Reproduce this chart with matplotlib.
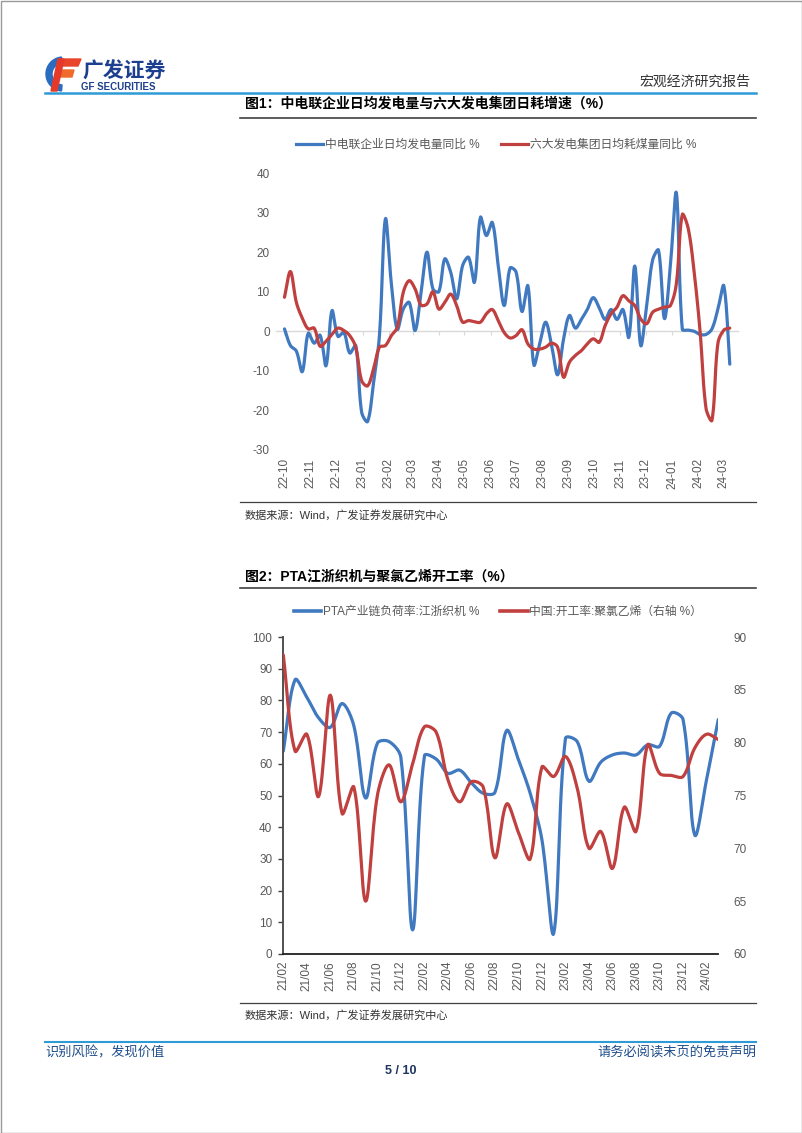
import numpy as np
import pandas as pd
import matplotlib
matplotlib.use('Agg')
import matplotlib.pyplot as plt
import matplotlib.dates as mdates
from matplotlib.lines import Line2D
from matplotlib.patches import Rectangle, Wedge, Polygon

plt.rcParams['font.family'] = ['Liberation Sans', 'Noto Sans CJK SC']
plt.rcParams['axes.unicode_minus'] = False

# ---------------- data: chart 1 (weekly, from 2022-10-01) ----------------
chart1_start = '2022-10-01'
power_yoy = [0.6, -3.6, -5, -10.2, -0.5, -3, -1, -8.7, 5.2, -1.3,
             -0.3, -5.5, -3.6, -20.5, -22.8, -13, -1, 28.4, 12, 0.5,
             5.6, 7.3, 0.2, 9.8, 20, 10.7, 10, 18.3, 14.9, 8.2,
             16.6, 18.7, 12.4, 28.8, 24.2, 27.5, 16.6, 6.5, 16, 15,
             5, 11.5, -8.5, -3, 2.3, -3.6, -11, -2, 4, 0.8,
             3, 5.5, 8.5, 6, 3, 5.5, 3, 5.5, -1.5, 16.5,
             -3.6, 6.5, 18, 20.5, 3.2, 16.6, 35, 0.5, 0.3, 0,
             -0.8, -0.8, 0.6, 5.6, 11.5, -8.3]
coal_yoy = [8.6, 15.1, 7.3, 3.3, 0.6, 0.8, -3.8, -2.5, -0.8, 0.8,
            0.2, -1.1, -4, -12.5, -13.8, -9.5, -4, -3.6, -1.1, 1,
            9.8, 12.8, 10.7, 6.6, 6.9, 10, 5.6, 7.3, 9.4, 6.5,
            2.3, 2.7, 2.4, 2.3, 4.4, 5.5, 2.7, -0.3, -1.7, -1.1,
            0.4, -3.2, -4.5, -4.5, -4, -3, -4, -11.6, -7.8, -6.1,
            -4.9, -3.2, -1.9, -2.8, 1.4, 4.4, 6.1, 9, 7.7, 6.5,
            3.1, 1.9, 4.8, 5.6, 6.1, 6.5, 12, 29.5, 26, 15,
            0, -19.5, -22.5, -3, 0.3, 0.8]
chart1_month_ticks = pd.date_range('2022-10-01', '2024-03-01', freq='MS')
chart1_yticks = [-30, -20, -10, 0, 10, 20, 30, 40]
chart1_labels = ['中电联企业日均发电量同比 %', '六大发电集团日均耗煤量同比 %']

# ---------------- data: chart 2 (monthly, 2021-02 .. 2024-03) ----------------
chart2_months = pd.date_range('2021-02-01', '2024-03-01', freq='MS')
pta_load = [64, 86.5, 81, 74.5, 71.5, 79, 72, 49.2, 66.5, 67,
            62, 7.6, 62.5, 61.5, 57, 58, 54, 50.7, 51, 70.5,
            61.3, 50.7, 36, 6.5, 68, 67, 54.5, 60.5, 62.8, 63.4,
            62.8, 66, 65.5, 76, 74, 37.5, 55, 74]
pvc_rate = [88.3, 79.2, 80.8, 74.9, 84.5, 73.3, 75.8, 65, 75, 77.9,
            74.4, 78, 81.5, 81, 76.5, 74.4, 76.3, 75.8, 69.1, 74.2,
            71.5, 69, 77.7, 76.8, 78.7, 75.7, 70, 71.6, 68.1, 73.9,
            71.6, 79.8, 77.1, 76.9, 76.8, 79.5, 80.8, 80.3]
chart2_labels = ['PTA产业链负荷率:江浙织机 %', '中国:开工率:聚氯乙烯（右轴 %）']

BLUE = '#4079c0'
RED = '#c0403f'
GRAY = '#595959'

W, H = 802, 1133
fig = plt.figure(figsize=(W / 100, H / 100), dpi=100)


def axrect(x0, y0, x1, y1):
    return [x0 / W, 1 - y1 / H, (x1 - x0) / W, (y1 - y0) / H]


def smooth(ax, x, y, n=16):
    """Excel-style smoothed line: cubic Bezier through the data points; the
    tangent at each point is split between its two sides in proportion to the
    screen length of each side."""
    P = ax.transData.transform(np.column_stack([np.asarray(x, float), np.asarray(y, float)]))
    N = len(P)
    seg = np.linalg.norm(np.diff(P, axis=0), axis=1)
    h_out = np.zeros_like(P)
    h_in = np.zeros_like(P)
    for i in range(1, N - 1):
        T = P[i + 1] - P[i - 1]
        lp, ln = seg[i - 1], seg[i]
        tot = lp + ln if lp + ln > 0 else 1.0
        h_out[i] = T * (ln / tot) / 3.0
        h_in[i] = T * (lp / tot) / 3.0
    h_out[0] = (P[1] - P[0]) / 3.0
    h_in[-1] = (P[-1] - P[-2]) / 3.0
    t = np.linspace(0, 1, n, endpoint=False)[:, None]
    pts = []
    for i in range(N - 1):
        p0, p3 = P[i], P[i + 1]
        c1 = p0 + h_out[i]
        c2 = p3 - h_in[i + 1]
        b = ((1 - t) ** 3) * p0 + 3 * ((1 - t) ** 2) * t * c1 + 3 * (1 - t) * t ** 2 * c2 + t ** 3 * p3
        pts.append(b)
    pts.append(P[-1:])
    d = ax.transData.inverted().transform(np.vstack(pts))
    return d[:, 0], d[:, 1]


# ---------------- page decorations ----------------
page = fig.add_axes([0, 0, 1, 1], zorder=0)
page.set_xlim(0, W)
page.set_ylim(H, 0)
page.axis('off')
page.add_patch(Rectangle((0.5, 0.5), W - 1, H - 1, fill=False, ec='#9a9a9a', lw=1))

# logo
page.add_patch(Wedge((63, 74), 17, 95, 265, width=6, color='#2a6cc0'))
page.add_patch(Polygon([(60, 59), (81, 59), (78, 66), (58, 66)], color='#e8452c'))
page.add_patch(Polygon([(58, 70), (74, 70), (72, 77), (56, 77)], color='#f06a2a'))
page.add_patch(Polygon([(58, 59), (64, 59), (57, 91), (51, 91)], color='#e53a2a'))
page.text(82, 71, '广发证券', fontsize=15, fontweight='bold', color='#1d3f8f',
          va='center', ha='left', family=['Noto Sans CJK SC'])
page.text(81, 87.5, 'GF SECURITIES', fontsize=7, fontweight='bold', color='#1d3f8f',
          va='center', ha='left')
page.text(750, 82, '宏观经济研究报告', fontsize=10, color='#333333', va='center', ha='right')
page.plot([45, 756], [93, 93], color='#2e9bd6', lw=1.8)

# chart titles & rules
page.text(245, 103, '图1：中电联企业日均发电量与六大发电集团日耗增速（%）', fontsize=10,
          fontweight='bold', color='black', va='center', ha='left')
page.plot([240, 756], [118, 118], color='#404040', lw=1.2)
page.plot([240, 756], [502, 502], color='#404040', lw=0.9)
page.text(245, 515, '数据来源：Wind，广发证券发展研究中心', fontsize=8, color='#333333',
          va='center', ha='left')

page.text(245, 577, '图2：PTA江浙织机与聚氯乙烯开工率（%）', fontsize=10,
          fontweight='bold', color='black', va='center', ha='left')
page.plot([240, 756], [588, 588], color='#404040', lw=1.2)
page.plot([240, 756], [1003, 1003], color='#404040', lw=0.9)
page.text(245, 1015, '数据来源：Wind，广发证券发展研究中心', fontsize=8, color='#333333',
          va='center', ha='left')

# footer
page.plot([45, 756], [1042, 1042], color='#2e9bd6', lw=1.5)
page.text(45, 1053, '识别风险，发现价值', fontsize=9.5, color='#1f4e8c', va='center', ha='left')
page.text(756, 1053, '请务必阅读末页的免责声明', fontsize=9.5, color='#1f4e8c', va='center', ha='right')
page.text(401, 1071, '5 / 10', fontsize=9, fontweight='bold', color='#1f3560', va='center', ha='center')

# ---------------- chart 1 ----------------
ax1 = fig.add_axes(axrect(276, 173, 738, 450), zorder=2)
ax1.patch.set_alpha(0)
d1 = pd.date_range(chart1_start, periods=len(power_yoy), freq='7D')
x1 = mdates.date2num(d1.to_pydatetime())
tick_nums = mdates.date2num(chart1_month_ticks.to_pydatetime())
ax1.set_xlim(tick_nums[0] - 10, tick_nums[-1] + 17.7)
ax1.set_ylim(-30, 40)

sx, sy = smooth(ax1, x1, power_yoy)
ax1.plot(sx, sy, color=BLUE, lw=2.3, solid_capstyle='round', solid_joinstyle='round')
sx, sy = smooth(ax1, x1, coal_yoy)
ax1.plot(sx, sy, color=RED, lw=2.3, solid_capstyle='round', solid_joinstyle='round')

ax1.set_yticks(chart1_yticks)
ax1.tick_params(axis='y', length=0, pad=4.5, labelsize=8.5, labelcolor=GRAY)
for s in ('left', 'right', 'top'):
    ax1.spines[s].set_visible(False)
ax1.spines['bottom'].set_position(('data', 0))
ax1.spines['bottom'].set_color('#d9d9d9')
ax1.spines['bottom'].set_linewidth(1.0)
ax1.spines['bottom'].set_zorder(0)
ax1.set_xticks(tick_nums)
ax1.tick_params(axis='x', direction='out', length=3, color='#d9d9d9', labelbottom=False)
sec = ax1.secondary_xaxis('bottom')
sec.set_xticks(tick_nums, labels=[d.strftime('%y-%m') for d in chart1_month_ticks])
sec.tick_params(length=0, rotation=90, labelsize=8.5, labelcolor=GRAY, pad=6)
sec.spines['bottom'].set_visible(False)

h1 = [Line2D([], [], color=BLUE, lw=2.3), Line2D([], [], color=RED, lw=2.3)]
fig.legend(h1, chart1_labels, loc='center', bbox_to_anchor=(496 / W, 1 - 145 / H),
           ncol=2, frameon=False, fontsize=8.5, handlelength=2.3, handletextpad=0.15,
           columnspacing=1.8, labelcolor=GRAY)

# ---------------- chart 2 ----------------
ax2 = fig.add_axes(axrect(283.3, 637, 718.3, 954), zorder=2)
ax2.patch.set_alpha(0)
m = np.arange(len(chart2_months))
ax2.set_xlim(0, len(chart2_months) - 1)
ax2.set_ylim(0, 100)
sx, sy = smooth(ax2, m, pta_load)
ax2.plot(sx, sy, color=BLUE, lw=2.3, solid_capstyle='round')
ax2.set_yticks(np.arange(0, 101, 10))
ax2.tick_params(axis='y', direction='out', length=3.6, width=1, color='#404040',
                pad=4.3, labelsize=8.5, labelcolor=GRAY)
ax2.set_xticks(m[::2], labels=[d.strftime('%y/%m') for d in chart2_months[::2]])
ax2.tick_params(axis='x', length=0, rotation=90, labelsize=8.5, labelcolor=GRAY, pad=5)
ax2.spines['top'].set_visible(False)
ax2.spines['right'].set_visible(False)
ax2.spines['left'].set_color('#505050')
ax2.spines['left'].set_linewidth(1.4)
ax2.spines['bottom'].set_color('#202020')
ax2.spines['bottom'].set_linewidth(1.3)

ax2r = ax2.twinx()
ax2r.set_ylim(60, 90)
sx, sy = smooth(ax2r, m, pvc_rate)
ax2r.plot(sx, sy, color=RED, lw=2.3, solid_capstyle='round')
ax2r.set_yticks(np.arange(60, 91, 5))
ax2r.tick_params(axis='y', length=0, pad=11, labelsize=8.5, labelcolor=GRAY)
for s in ('top', 'right', 'left', 'bottom'):
    ax2r.spines[s].set_visible(False)

h2 = [Line2D([], [], color=BLUE, lw=2.6), Line2D([], [], color=RED, lw=2.6)]
fig.legend(h2, chart2_labels, loc='center', bbox_to_anchor=(498 / W, 1 - 612 / H),
           ncol=2, frameon=False, fontsize=8.5, handlelength=2.3, handletextpad=0.15,
           columnspacing=1.8, labelcolor=GRAY)

fig.savefig('out.png', dpi=100)
